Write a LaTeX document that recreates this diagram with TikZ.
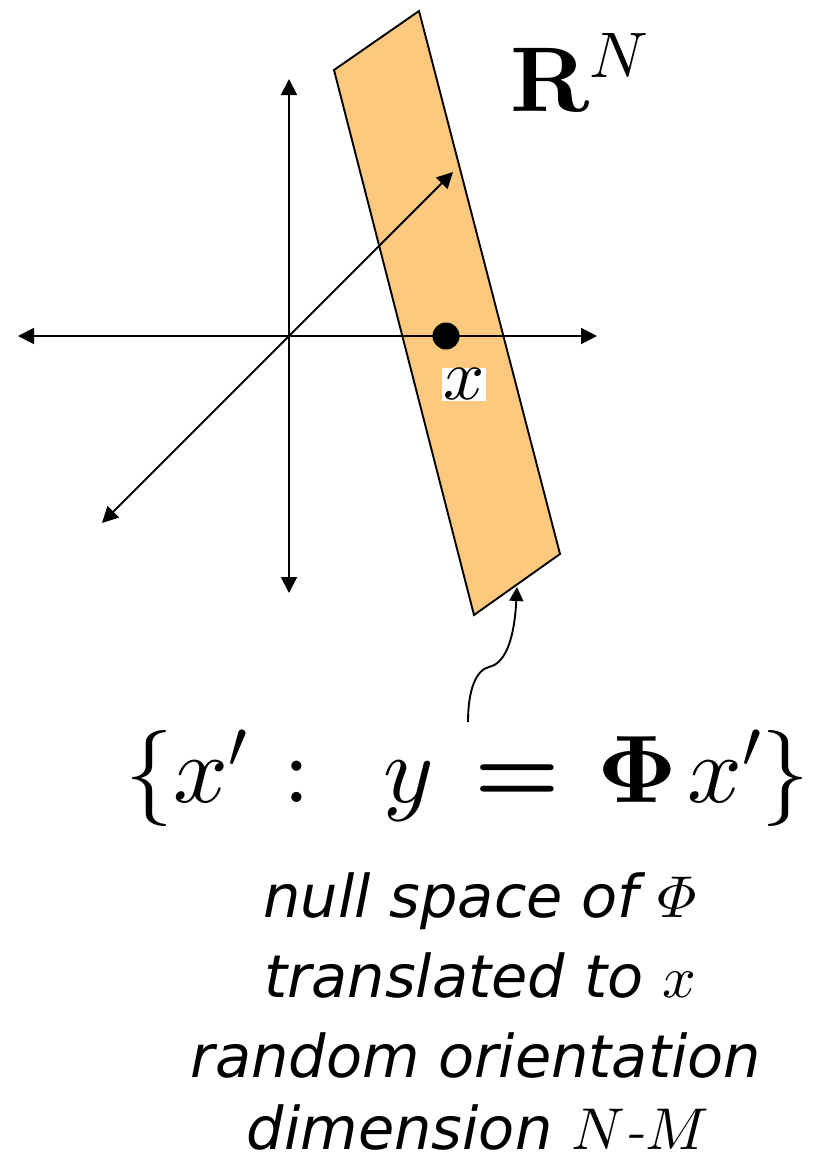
\documentclass[tikz,border=0pt]{standalone}
\usepackage{amsmath}
\usepackage[no-math]{fontspec}
\DeclareFontFamily{OML}{mycmm}{\skewchar\font127}
\DeclareFontShape{OML}{mycmm}{m}{it}{<-> cmmi10}{}
\DeclareFontShape{OML}{mycmm}{b}{it}{<-> cmmib10}{}
\DeclareFontFamily{OMS}{mycmsy}{\skewchar\font48}
\DeclareFontShape{OMS}{mycmsy}{m}{n}{<-> cmsy10}{}
\DeclareFontShape{OMS}{mycmsy}{b}{n}{<-> cmbsy10}{}
\DeclareFontFamily{OT1}{mycmr}{}
\DeclareFontShape{OT1}{mycmr}{m}{n}{<-> cmr10}{}
\DeclareFontShape{OT1}{mycmr}{bx}{n}{<-> cmbx10}{}
\DeclareSymbolFont{letters}{OML}{mycmm}{m}{it}
\SetSymbolFont{letters}{bold}{OML}{mycmm}{b}{it}
\DeclareSymbolFont{symbols}{OMS}{mycmsy}{m}{n}
\SetSymbolFont{symbols}{bold}{OMS}{mycmsy}{b}{n}
\DeclareSymbolFont{operators}{OT1}{mycmr}{m}{n}
\SetSymbolFont{operators}{bold}{OT1}{mycmr}{bx}{n}
\DeclareMathAlphabet{\mathbf}{OT1}{mycmr}{bx}{n}
\newfontfamily\labfont{DejaVu Sans}
\usetikzlibrary{arrows.meta}
\definecolor{bandfill}{RGB}{253,201,126}
\begin{document}
\begin{tikzpicture}[x=1pt,y=-1pt,
  axis/.style={line width=1.9pt,{Triangle[length=16pt,width=16pt]}-{Triangle[length=16pt,width=16pt]}},
  band/.style={fill=bandfill,draw=black,line width=1.9pt,line join=miter},
  caption/.style={font=\labfont\itshape\fontsize{59}{78}\selectfont,anchor=base,inner sep=0pt}]
\useasboundingbox (0,0) rectangle (819,1159);
\fill[white] (0,0) rectangle (819,1159);
% band (null space translated to x)
\coordinate (b1) at (334,70);
\coordinate (b2) at (419,11);
\coordinate (b3) at (560,554);
\coordinate (b4) at (474,615);
\draw[band] (b1)--(b2)--(b3)--(b4)--cycle;
% axes
\coordinate (L) at (18,336);
\coordinate (R) at (597,336);
\coordinate (T) at (289,79);
\coordinate (B) at (289,593);
\coordinate (D1) at (102,523);
\coordinate (D2) at (453,172);
\draw[axis] (L)--(R);
\draw[axis] (T)--(B);
\draw[axis] (D1)--(D2);
% point x
\node[circle,fill=black,minimum size=27pt,inner sep=0pt] (pt) at (446,336) {};
\node[fill=white,inner sep=1pt,font=\fontsize{72}{80}\selectfont] (xl) at (464,384) {$x$};
% R^N
\node[font=\fontsize{92}{94}\selectfont,anchor=base west,inner sep=0pt] (rn) at (510,111) {$\mathbf{R}^N$};
% curved arrow
\coordinate (cs) at (468,722);
\coordinate (ct) at (517,587);
\draw[line width=1.9pt,-{Triangle[length=14pt,width=14pt]}] (cs) .. controls (468,690) and (476,670) .. (489,667) .. controls (503,664) and (514,645) .. (ct);
% formula
\node[font=\fontsize{96}{100}\selectfont,anchor=base west,inner sep=0pt] (fm) at (125,802)
  {$\{x'\hspace{36pt}{:}\hspace{74pt}y\hspace{40pt}{\boldsymbol{=}}\hspace{38pt}{\boldsymbol{\Phi}}\hspace{10pt}x'\}$};
% captions
\node[caption] (t1) at (480,917) {null space of $\varPhi$};
\node[caption] (t2) at (480,997) {translated to $x$};
\node[caption] (t3) at (476,1077) {random orientation};
\node[caption] (t4) at (478,1149) {dimension $N$\textrm{-}$M$};
\end{tikzpicture}
\end{document}
